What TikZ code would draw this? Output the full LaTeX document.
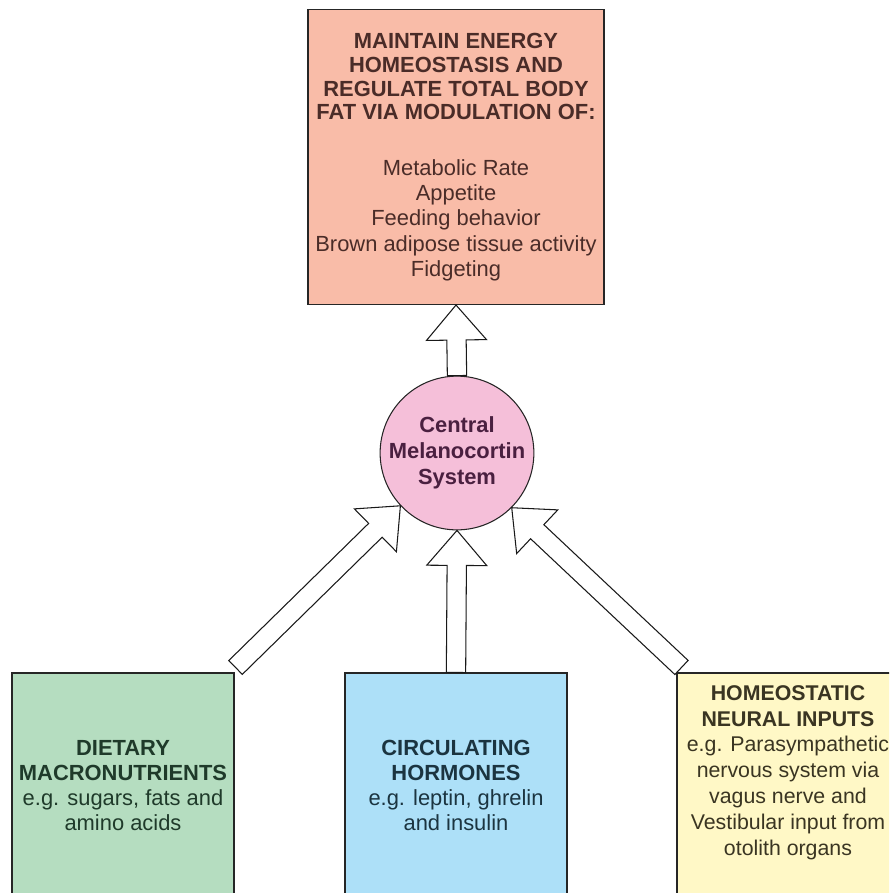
\documentclass[tikz,border=0pt]{standalone}
\usepackage{fontspec}
\setmainfont{Liberation Sans}
\usetikzlibrary{calc,shapes,arrows,positioning}

\definecolor{salmon}{HTML}{F9BCA8}
\definecolor{pinkc}{HTML}{F5BFD9}
\definecolor{greenc}{HTML}{B5DDC0}
\definecolor{bluec}{HTML}{ADE0F8}
\definecolor{yellowc}{HTML}{FFF8C6}
\definecolor{goaltext}{HTML}{4A2C28}
\definecolor{cmstext}{HTML}{4A2040}
\definecolor{diettext}{HTML}{1F3A2A}
\definecolor{hormtext}{HTML}{1B3440}
\definecolor{neurtext}{HTML}{3A3522}

% hollow block arrow from #1 to #2
\newcommand{\blockarrow}[2]{%
  \coordinate (hb) at ($(#2)!1.05cm!(#1)$);
  \draw[fatarrow] ($(#1)!0.29cm!90:(#2)$) -- ($(hb)!0.29cm!90:(#2)$) -- ($(hb)!0.9cm!90:(#2)$)
    -- (#2) -- ($(hb)!0.9cm!-90:(#2)$) -- ($(hb)!0.29cm!-90:(#2)$) -- ($(#1)!0.29cm!-90:(#2)$) -- cycle;
}

\begin{document}
\begin{tikzpicture}[x=0.03cm,y=-0.03cm,
    box/.style={draw=black!85,line width=0.9pt,align=center,inner sep=2pt,
      font=\fontsize{18.7}{21.5}\selectfont},
    inbox/.style={box,minimum width=6.66cm,minimum height=6.75cm},
    fatarrow/.style={draw=black!90,fill=white,line width=0.9pt,line join=miter}]
\useasboundingbox (0,0) rectangle (889,893);
\clip (0,0) rectangle (889,893);

\node[box,fill=salmon,text=goaltext,minimum width=8.88cm,minimum height=8.85cm] (goal) at (456,157)
  {\textbf{MAINTAIN ENERGY}\\[-1.2pt]\textbf{HOMEOSTASIS AND}\\[-1.2pt]\textbf{REGULATE TOTAL BODY}\\[-1.2pt]\textbf{FAT VIA MODULATION OF:}\\[26pt]
   Metabolic Rate\\Appetite\\Feeding behavior\\Brown adipose tissue activity\\Fidgeting};

\node[box,circle,fill=pinkc,text=cmstext,minimum size=4.38cm,inner sep=0pt,
  font=\fontsize{18.7}{22}\selectfont\bfseries] (cms) at (457,453) {Central\\Melanocortin\\System};

\node[inbox,fill=greenc,text=diettext] (diet) at (123,785.5)
  {\textbf{DIETARY}\\\textbf{MACRONUTRIENTS}\\e.g. sugars, fats and\\amino acids};
\node[inbox,fill=bluec,text=hormtext] (horm) at (456,785.5)
  {\textbf{CIRCULATING}\\\textbf{HORMONES}\\e.g. leptin, ghrelin\\and insulin};
\node[inbox,fill=yellowc,text=neurtext,font=\fontsize{18.2}{22}\selectfont] (neur) at (788,785.5)
  {\textbf{HOMEOSTATIC}\\\textbf{NEURAL INPUTS}\\e.g. Parasympathetic\\nervous system via\\vagus nerve and\\Vestibular input from\\otolith organs\hspace{1em}\\[4pt]\mbox{}};

\coordinate (dtail) at ($(diet.north east)+(1,-5)$);
\coordinate (ntail) at ($(neur.north west)+(5,-5)$);

\blockarrow{cms.north}{goal.south}
\blockarrow{horm.north}{cms.south}
\blockarrow{dtail}{cms.-137}
\blockarrow{ntail}{cms.-45}
\end{tikzpicture}
\end{document}
